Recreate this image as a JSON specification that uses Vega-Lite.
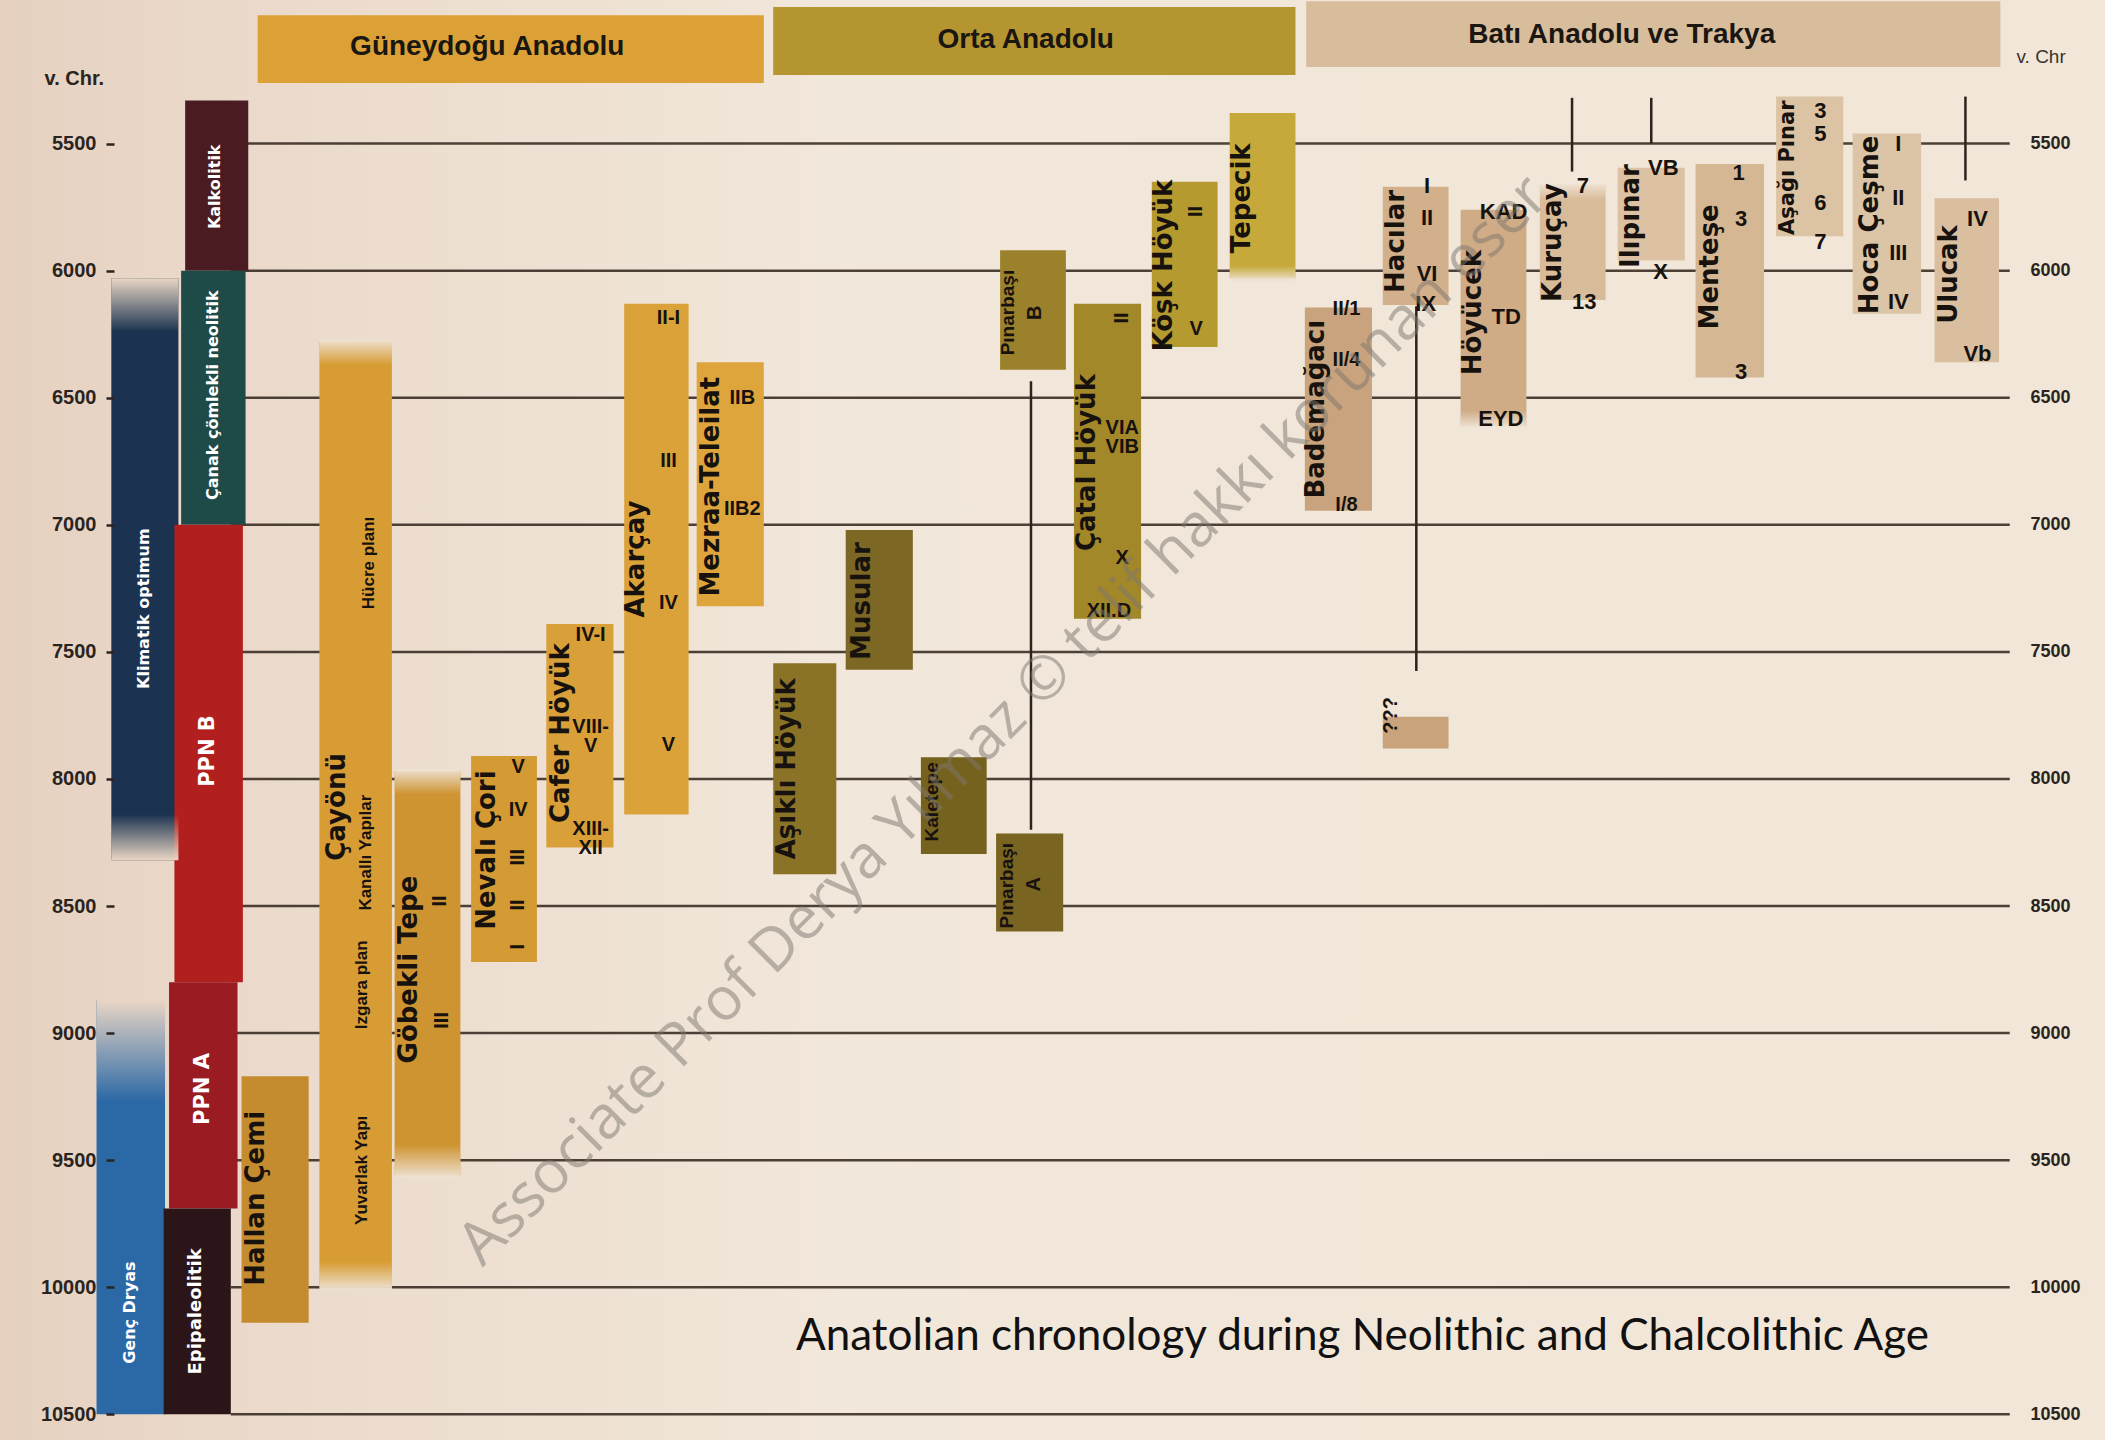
{
"$schema": "https://vega.github.io/schema/vega-lite/v6.json",
"width": 1896, "height": 1440,
"autosize": {"type": "none"},
"padding": {"left": 114, "right": 95, "top": 0, "bottom": 0},
"background": "#f0e5d6",
"config": {"view": {"stroke": null}},
"resolve": {"axis": {"y": "independent"}},
"datasets": {
"grid": [{"year":5500},{"year":6000},{"year":6500},{"year":7000},{"year":7500},{"year":8000},{"year":8500},{"year":9000},{"year":9500},{"year":10000},{"year":10500}],
"bands": [
{"name":"Güneydoğu Anadolu","x":192,"x2":569,"year":4995,"year2":5262},
{"name":"Orta Anadolu","x":576,"x2":965,"year":4963,"year2":5230},
{"name":"Batı Anadolu ve Trakya","x":973,"x2":1490,"year":4940,"year2":5199},
{"name":"Klimatik optimum","x":83,"x2":133,"year":6030,"year2":8320},
{"name":"Genç Dryas","x":72,"x2":123,"year":8870,"year2":10500},
{"name":"Kalkolitik","x":138,"x2":185,"year":5330,"year2":6000},
{"name":"Çanak çömlekli neolitik","x":135,"x2":183,"year":6000,"year2":7000},
{"name":"PPN B","x":130,"x2":181,"year":7000,"year2":8800},
{"name":"PPN A","x":126,"x2":177,"year":8800,"year2":9690},
{"name":"Epipaleolitik","x":122,"x2":172,"year":9690,"year2":10500},
{"name":"Hallan Çemi","x":180,"x2":230,"year":9170,"year2":10140},
{"name":"Çayönü","x":238,"x2":292,"year":6280,"year2":10000},
{"name":"Göbekli Tepe","x":294,"x2":343,"year":7970,"year2":9560},
{"name":"Nevalı Çori","x":351,"x2":400,"year":7910,"year2":8720},
{"name":"Cafer Höyük","x":407,"x2":457,"year":7390,"year2":8270},
{"name":"Akarçay","x":465,"x2":513,"year":6130,"year2":8140},
{"name":"Mezraa-Teleilat","x":519,"x2":569,"year":6360,"year2":7320},
{"name":"Aşıklı Höyük","x":576,"x2":623,"year":7545,"year2":8375},
{"name":"Musular","x":630,"x2":680,"year":7020,"year2":7570},
{"name":"Kaletepe","x":686,"x2":735,"year":7915,"year2":8295},
{"name":"Pınarbaşı A","x":742,"x2":792,"year":8215,"year2":8600},
{"name":"Pınarbaşı B","x":745,"x2":794,"year":5920,"year2":6390},
{"name":"Çatal Höyük","x":800,"x2":850,"year":6130,"year2":7370},
{"name":"Köşk Höyük","x":858,"x2":907,"year":5650,"year2":6300},
{"name":"Tepecik","x":916,"x2":965,"year":5380,"year2":6030},
{"name":"Bademağacı","x":972,"x2":1022,"year":6145,"year2":6945},
{"name":"Hacılar","x":1030,"x2":1079,"year":5670,"year2":6135},
{"name":"???","x":1030,"x2":1079,"year":7755,"year2":7880},
{"name":"Höyücek","x":1088,"x2":1137,"year":5760,"year2":6610},
{"name":"Kuruçay","x":1147,"x2":1196,"year":5665,"year2":6115},
{"name":"Ilıpınar","x":1205,"x2":1255,"year":5595,"year2":5960},
{"name":"Menteşe","x":1263,"x2":1314,"year":5580,"year2":6420},
{"name":"Aşağı Pınar","x":1323,"x2":1373,"year":5315,"year2":5865},
{"name":"Hoca Çeşme","x":1380,"x2":1431,"year":5460,"year2":6170},
{"name":"Ulucak","x":1441,"x2":1489,"year":5715,"year2":6360}
],
"vlines": [
{"site":"Pınarbaşı","x":768,"year":6435,"year2":8200},
{"site":"Hacılar","x":1055,"year":6140,"year2":7575},
{"site":"Kuruçay","x":1171,"year":5320,"year2":5610},
{"site":"Ilıpınar","x":1230,"year":5320,"year2":5500},
{"site":"Ulucak","x":1464,"year":5315,"year2":5645}
],
"fades": [
{"site":"Klimatik optimum","dir":"top","x":83,"x2":133,"year":6030,"year2":6240},
{"site":"Klimatik optimum","dir":"bottom","x":83,"x2":133,"year":8140,"year2":8320},
{"site":"Genç Dryas","dir":"top","x":72,"x2":123,"year":8870,"year2":9270},
{"site":"Çayönü","dir":"top","x":238,"x2":292,"year":6270,"year2":6370},
{"site":"Çayönü","dir":"bottom","x":238,"x2":292,"year":9900,"year2":10010},
{"site":"Göbekli Tepe","dir":"top","x":294,"x2":343,"year":7960,"year2":8060},
{"site":"Göbekli Tepe","dir":"bottom","x":294,"x2":343,"year":9440,"year2":9570},
{"site":"Tepecik","dir":"bottom","x":916,"x2":965,"year":5980,"year2":6040},
{"site":"Kuruçay","dir":"top","x":1147,"x2":1196,"year":5660,"year2":5720},
{"site":"Höyücek","dir":"bottom","x":1088,"x2":1137,"year":6550,"year2":6615}
],
"labels": [
{"text":"Güneydoğu Anadolu","x":363,"year":5120,"kind":"header"},
{"text":"Orta Anadolu","x":764,"year":5092,"kind":"header"},
{"text":"Batı Anadolu ve Trakya","x":1208,"year":5073,"kind":"header"},
{"text":"Kalkolitik","x":160,"year":5670,"kind":"period"},
{"text":"Çanak çömlekli neolitik","x":159,"year":6490,"kind":"period"},
{"text":"PPN B","x":155,"year":7890,"kind":"periodBig"},
{"text":"PPN A","x":151,"year":9220,"kind":"periodBig"},
{"text":"Epipaleolitik","x":146,"year":10095,"kind":"periodMid"},
{"text":"Klimatik optimum","x":107,"year":7330,"kind":"period"},
{"text":"Genç Dryas","x":97,"year":10100,"kind":"period"},
{"text":"Hallan Çemi","x":191,"year":9650,"kind":"site"},
{"text":"Çayönü","x":251,"year":8110,"kind":"site"},
{"text":"Göbekli Tepe","x":305,"year":8750,"kind":"site"},
{"text":"Nevalı Çori","x":363,"year":8280,"kind":"site"},
{"text":"Cafer Höyük","x":418,"year":7820,"kind":"site"},
{"text":"Akarçay","x":474,"year":7135,"kind":"site"},
{"text":"Mezraa-Teleilat","x":530,"year":6850,"kind":"site"},
{"text":"Aşıklı Höyük","x":586,"year":7960,"kind":"site"},
{"text":"Musular","x":642,"year":7300,"kind":"site"},
{"text":"Çatal Höyük","x":810,"year":6755,"kind":"site"},
{"text":"Köşk Höyük","x":867,"year":5980,"kind":"site"},
{"text":"Tepecik","x":925,"year":5715,"kind":"site"},
{"text":"Bademağacı","x":980,"year":6545,"kind":"site"},
{"text":"Hacılar","x":1040,"year":5885,"kind":"site"},
{"text":"Höyücek","x":1097,"year":6165,"kind":"site"},
{"text":"Kuruçay","x":1157,"year":5890,"kind":"site"},
{"text":"Ilıpınar","x":1215,"year":5785,"kind":"site"},
{"text":"Menteşe","x":1274,"year":5985,"kind":"site"},
{"text":"Hoca Çeşme","x":1393,"year":5820,"kind":"site"},
{"text":"Ulucak","x":1452,"year":6015,"kind":"site"},
{"text":"Aşağı Pınar","x":1332,"year":5595,"kind":"siteMid"},
{"text":"Kaletepe","x":694,"year":8090,"kind":"siteSmall"},
{"text":"Pınarbaşı","x":750,"year":8420,"kind":"siteSmall"},
{"text":"Pınarbaşı","x":751,"year":6165,"kind":"siteSmall"},
{"text":"Hücre planı","x":275,"year":7150,"kind":"note"},
{"text":"Kanallı Yapılar","x":273,"year":8290,"kind":"note"},
{"text":"Izgara plan","x":270,"year":8810,"kind":"note"},
{"text":"Yuvarlak Yapı","x":270,"year":9540,"kind":"note"},
{"text":"II","x":328,"year":8480,"kind":"numRot"},
{"text":"III","x":329,"year":8950,"kind":"numRot"},
{"text":"III","x":386,"year":8308,"kind":"numRot"},
{"text":"II","x":386,"year":8496,"kind":"numRot"},
{"text":"I","x":386,"year":8660,"kind":"numRot"},
{"text":"II","x":891,"year":5767,"kind":"numRot"},
{"text":"II","x":836,"year":6186,"kind":"numRot"},
{"text":"A","x":770,"year":8414,"kind":"numRot"},
{"text":"B","x":771,"year":6166,"kind":"numRot"},
{"text":"???","x":1036,"year":7750,"kind":"numRot"},
{"text":"V","x":386,"year":7953,"kind":"num"},
{"text":"IV","x":386,"year":8121,"kind":"num"},
{"text":"IV-I","x":440,"year":7433,"kind":"num"},
{"text":"VIII-\nV","x":440,"year":7795,"kind":"num"},
{"text":"XIII-\nXII","x":440,"year":8198,"kind":"num"},
{"text":"II-I","x":498,"year":6185,"kind":"num"},
{"text":"III","x":498,"year":6748,"kind":"num"},
{"text":"IV","x":498,"year":7306,"kind":"num"},
{"text":"V","x":498,"year":7865,"kind":"num"},
{"text":"IIB","x":553,"year":6500,"kind":"num"},
{"text":"IIB2","x":553,"year":6937,"kind":"num"},
{"text":"VIA\nVIB","x":836,"year":6621,"kind":"num"},
{"text":"X","x":836,"year":7132,"kind":"num"},
{"text":"XII.D","x":826,"year":7340,"kind":"num"},
{"text":"V","x":891,"year":6228,"kind":"num"},
{"text":"II/1","x":1003,"year":6150,"kind":"num"},
{"text":"II/4","x":1003,"year":6353,"kind":"num"},
{"text":"I/8","x":1003,"year":6922,"kind":"num"},
{"text":"I","x":1063,"year":5666,"kind":"numB"},
{"text":"II","x":1063,"year":5791,"kind":"numB"},
{"text":"VI","x":1063,"year":6013,"kind":"numB"},
{"text":"IX","x":1062,"year":6131,"kind":"numB"},
{"text":"KAD","x":1120,"year":5771,"kind":"numB"},
{"text":"TD","x":1122,"year":6183,"kind":"numB"},
{"text":"EYD","x":1118,"year":6584,"kind":"numB"},
{"text":"7","x":1179,"year":5666,"kind":"numB"},
{"text":"13","x":1180,"year":6124,"kind":"numB"},
{"text":"VB","x":1239,"year":5595,"kind":"numB"},
{"text":"X","x":1237,"year":6005,"kind":"numB"},
{"text":"1","x":1295,"year":5616,"kind":"numB"},
{"text":"3","x":1297,"year":5797,"kind":"numB"},
{"text":"3","x":1297,"year":6400,"kind":"numB"},
{"text":"3","x":1356,"year":5371,"kind":"numB"},
{"text":"5","x":1356,"year":5461,"kind":"numB"},
{"text":"6","x":1356,"year":5733,"kind":"numB"},
{"text":"7","x":1356,"year":5888,"kind":"numB"},
{"text":"I","x":1414,"year":5500,"kind":"numB"},
{"text":"II","x":1414,"year":5713,"kind":"numB"},
{"text":"III","x":1414,"year":5932,"kind":"numB"},
{"text":"IV","x":1414,"year":6122,"kind":"numB"},
{"text":"IV","x":1473,"year":5797,"kind":"numB"},
{"text":"Vb","x":1473,"year":6327,"kind":"numB"},
{"text":"Associate Prof Derya Yılmaz © telif hakkı korunan eser","x":748,"year":7771,"kind":"wm"},
{"text":"Anatolian chronology during Neolithic and Chalcolithic Age","x":593,"year":10245,"kind":"caption"}
]
},
"layer": [
{"data":{"values":[{}]},
 "mark":{"type":"rect","fill":{"gradient":"linear","x1":0,"y1":0,"x2":1,"y2":0,"stops":[{"offset":0,"color":"#e6d1c0"},{"offset":0.12,"color":"#ebdacb"},{"offset":0.4,"color":"#f1e7da"},{"offset":1,"color":"#f1e6d7"}]}},
 "encoding":{
  "x":{"datum":0,"type":"quantitative","scale":{"domain":[85,1497.2],"nice":false,"zero":false},"axis":null},
  "x2":{"datum":1568},
  "y":{"datum":4935,"type":"quantitative","scale":{"domain":[4935,10601],"nice":false,"zero":false,"reverse":true},"axis":null},
  "y2":{"datum":10601}}},
{"data":{"name":"grid"},
 "mark":{"type":"rule","color":"#3a2d25","strokeWidth":2.5,"opacity":0.9},
 "encoding":{
  "x":{"datum":172,"type":"quantitative","scale":{"domain":[85,1497.2],"nice":false,"zero":false},"axis":null},
  "x2":{"datum":1497},
  "y":{"field":"year","type":"quantitative","scale":{"domain":[4935,10601],"nice":false,"zero":false,"reverse":true},
   "axis":{"orient":"left","zindex":1,"values":[5500,6000,6500,7000,7500,8000,8500,9000,9500,10000,10500],"format":"d","domain":false,"grid":false,"ticks":true,"tickSize":8,"tickWidth":2.5,"tickColor":"#2a2420","labelFont":"Liberation Sans","labelFontWeight":"bold","labelFontSize":20,"labelColor":"#2a2420","labelPadding":10,
    "title":"v. Chr.","titleAngle":0,"titleX":-70,"titleY":78,"titleAlign":"left","titleBaseline":"middle","titleFont":"Liberation Sans","titleFontSize":20,"titleFontWeight":"bold","titleColor":"#2a2420"}}}},
{"data":{"name":"bands"},
 "mark":{"type":"rect"},
 "encoding":{
  "x":{"field":"x","type":"quantitative","scale":{"domain":[85,1497.2],"nice":false,"zero":false},"axis":null},
  "x2":{"field":"x2"},
  "y":{"field":"year","type":"quantitative","scale":{"domain":[4935,10601],"nice":false,"zero":false,"reverse":true},"axis":null},
  "y2":{"field":"year2"},
  "color":{"field":"name","type":"nominal","legend":null,"scale":{
   "domain":["Güneydoğu Anadolu","Orta Anadolu","Batı Anadolu ve Trakya","Klimatik optimum","Genç Dryas","Kalkolitik","Çanak çömlekli neolitik","PPN B","PPN A","Epipaleolitik","Hallan Çemi","Çayönü","Göbekli Tepe","Nevalı Çori","Cafer Höyük","Akarçay","Mezraa-Teleilat","Aşıklı Höyük","Musular","Kaletepe","Pınarbaşı A","Pınarbaşı B","Çatal Höyük","Köşk Höyük","Tepecik","Bademağacı","Hacılar","???","Höyücek","Kuruçay","Ilıpınar","Menteşe","Aşağı Pınar","Hoca Çeşme","Ulucak"],
   "range":["#dba136","#b5952f","#d8bd9c","#1b3350","#2b68a6","#4a1c22","#1e4b47","#b21f1f","#9a1b22","#2b1518","#c48b2f","#d79c34","#cd9431","#d49a33","#d9a03a","#dba23a","#dea53d","#8a7226","#7c6724","#76621f","#7a6421","#9b812b","#a38829","#b59a30","#c6a93a","#c8a37d","#d2b08b","#c9a37b","#cfab86","#d8bc99","#dcc2a2","#d6b793","#dcc3a3","#dcc4a6","#d9bfa0"]}}}},
{"data":{"name":"vlines"},
 "mark":{"type":"rule","color":"#2e231c","strokeWidth":2.5},
 "encoding":{
  "x":{"field":"x","type":"quantitative","scale":{"domain":[85,1497.2],"nice":false,"zero":false},"axis":null},
  "y":{"field":"year","type":"quantitative","scale":{"domain":[4935,10601],"nice":false,"zero":false,"reverse":true},
   "axis":{"orient":"right","zindex":1,"values":[5500,6000,6500,7000,7500,8000,8500,9000,9500,10000,10500],"format":"d","domain":false,"grid":false,"ticks":false,"labelFont":"Liberation Sans","labelFontWeight":"bold","labelFontSize":18,"labelColor":"#2a2420","labelPadding":20,
    "title":"v. Chr","titleAngle":0,"titleX":6,"titleY":56,"titleAlign":"left","titleBaseline":"middle","titleFont":"Liberation Sans","titleFontSize":19,"titleFontWeight":"normal","titleColor":"#3a3430"}},
  "y2":{"field":"year2"}}},
{"data":{"name":"fades"},
 "transform":[{"filter":"datum.dir === 'top' && (datum.site === 'Klimatik optimum' || datum.site === 'Genç Dryas')"}],
 "mark":{"type":"rect","fill":{"gradient":"linear","x1":0,"y1":0,"x2":0,"y2":1,"stops":[{"offset":0,"color":"#e9d6c5"},{"offset":1,"color":"rgba(233,214,197,0)"}]}},
 "encoding":{
  "x":{"field":"x","type":"quantitative","scale":{"domain":[85,1497.2],"nice":false,"zero":false},"axis":null},
  "x2":{"field":"x2"},
  "y":{"field":"year","type":"quantitative","scale":{"domain":[4935,10601],"nice":false,"zero":false,"reverse":true},"axis":null},
  "y2":{"field":"year2"}}},
{"data":{"name":"fades"},
 "transform":[{"filter":"datum.dir === 'bottom' && (datum.site === 'Klimatik optimum' || datum.site === 'Genç Dryas')"}],
 "mark":{"type":"rect","fill":{"gradient":"linear","x1":0,"y1":0,"x2":0,"y2":1,"stops":[{"offset":0,"color":"rgba(233,214,197,0)"},{"offset":1,"color":"#e9d6c5"}]}},
 "encoding":{
  "x":{"field":"x","type":"quantitative","scale":{"domain":[85,1497.2],"nice":false,"zero":false},"axis":null},
  "x2":{"field":"x2"},
  "y":{"field":"year","type":"quantitative","scale":{"domain":[4935,10601],"nice":false,"zero":false,"reverse":true},"axis":null},
  "y2":{"field":"year2"}}},
{"data":{"name":"fades"},
 "transform":[{"filter":"datum.dir === 'top' && datum.site !== 'Klimatik optimum' && datum.site !== 'Genç Dryas'"}],
 "mark":{"type":"rect","fill":{"gradient":"linear","x1":0,"y1":0,"x2":0,"y2":1,"stops":[{"offset":0,"color":"#eee1d2"},{"offset":1,"color":"rgba(238,225,210,0)"}]}},
 "encoding":{
  "x":{"field":"x","type":"quantitative","scale":{"domain":[85,1497.2],"nice":false,"zero":false},"axis":null},
  "x2":{"field":"x2"},
  "y":{"field":"year","type":"quantitative","scale":{"domain":[4935,10601],"nice":false,"zero":false,"reverse":true},"axis":null},
  "y2":{"field":"year2"}}},
{"data":{"name":"fades"},
 "transform":[{"filter":"datum.dir === 'bottom' && datum.site !== 'Klimatik optimum' && datum.site !== 'Genç Dryas'"}],
 "mark":{"type":"rect","fill":{"gradient":"linear","x1":0,"y1":0,"x2":0,"y2":1,"stops":[{"offset":0,"color":"rgba(238,225,210,0)"},{"offset":1,"color":"#eee1d2"}]}},
 "encoding":{
  "x":{"field":"x","type":"quantitative","scale":{"domain":[85,1497.2],"nice":false,"zero":false},"axis":null},
  "x2":{"field":"x2"},
  "y":{"field":"year","type":"quantitative","scale":{"domain":[4935,10601],"nice":false,"zero":false,"reverse":true},"axis":null},
  "y2":{"field":"year2"}}},
{"data":{"name":"labels"},"transform":[{"filter":"datum.kind === 'header'"}],
 "mark":{"type":"text","align":"center","baseline":"middle","font":"Liberation Sans","fontWeight":"bold","fontSize":28,"color":"#1a1612"},
 "encoding":{"x":{"field":"x","type":"quantitative","scale":{"domain":[85,1497.2],"nice":false,"zero":false},"axis":null},"y":{"field":"year","type":"quantitative","scale":{"domain":[4935,10601],"nice":false,"zero":false,"reverse":true},"axis":null},"text":{"field":"text","type":"nominal"}}},
{"data":{"name":"labels"},"transform":[{"filter":"datum.kind === 'period'"}],
 "mark":{"type":"text","angle":270,"align":"center","baseline":"middle","font":"DejaVu Sans","fontWeight":"bold","fontSize":16,"color":"#ffffff"},
 "encoding":{"x":{"field":"x","type":"quantitative","scale":{"domain":[85,1497.2],"nice":false,"zero":false},"axis":null},"y":{"field":"year","type":"quantitative","scale":{"domain":[4935,10601],"nice":false,"zero":false,"reverse":true},"axis":null},"text":{"field":"text","type":"nominal"}}},
{"data":{"name":"labels"},"transform":[{"filter":"datum.kind === 'periodMid'"}],
 "mark":{"type":"text","angle":270,"align":"center","baseline":"middle","font":"DejaVu Sans","fontWeight":"bold","fontSize":18,"color":"#ffffff"},
 "encoding":{"x":{"field":"x","type":"quantitative","scale":{"domain":[85,1497.2],"nice":false,"zero":false},"axis":null},"y":{"field":"year","type":"quantitative","scale":{"domain":[4935,10601],"nice":false,"zero":false,"reverse":true},"axis":null},"text":{"field":"text","type":"nominal"}}},
{"data":{"name":"labels"},"transform":[{"filter":"datum.kind === 'periodBig'"}],
 "mark":{"type":"text","angle":270,"align":"center","baseline":"middle","font":"DejaVu Sans","fontWeight":"bold","fontSize":21,"color":"#ffffff"},
 "encoding":{"x":{"field":"x","type":"quantitative","scale":{"domain":[85,1497.2],"nice":false,"zero":false},"axis":null},"y":{"field":"year","type":"quantitative","scale":{"domain":[4935,10601],"nice":false,"zero":false,"reverse":true},"axis":null},"text":{"field":"text","type":"nominal"}}},
{"data":{"name":"labels"},"transform":[{"filter":"datum.kind === 'site'"}],
 "mark":{"type":"text","angle":270,"align":"center","baseline":"middle","font":"DejaVu Sans","fontWeight":"bold","fontSize":26,"color":"#17120e"},
 "encoding":{"x":{"field":"x","type":"quantitative","scale":{"domain":[85,1497.2],"nice":false,"zero":false},"axis":null},"y":{"field":"year","type":"quantitative","scale":{"domain":[4935,10601],"nice":false,"zero":false,"reverse":true},"axis":null},"text":{"field":"text","type":"nominal"}}},
{"data":{"name":"labels"},"transform":[{"filter":"datum.kind === 'siteMid'"}],
 "mark":{"type":"text","angle":270,"align":"center","baseline":"middle","font":"DejaVu Sans","fontWeight":"bold","fontSize":21,"color":"#17120e"},
 "encoding":{"x":{"field":"x","type":"quantitative","scale":{"domain":[85,1497.2],"nice":false,"zero":false},"axis":null},"y":{"field":"year","type":"quantitative","scale":{"domain":[4935,10601],"nice":false,"zero":false,"reverse":true},"axis":null},"text":{"field":"text","type":"nominal"}}},
{"data":{"name":"labels"},"transform":[{"filter":"datum.kind === 'siteSmall'"}],
 "mark":{"type":"text","angle":270,"align":"center","baseline":"middle","font":"Liberation Sans","fontWeight":"bold","fontSize":19,"color":"#17120e"},
 "encoding":{"x":{"field":"x","type":"quantitative","scale":{"domain":[85,1497.2],"nice":false,"zero":false},"axis":null},"y":{"field":"year","type":"quantitative","scale":{"domain":[4935,10601],"nice":false,"zero":false,"reverse":true},"axis":null},"text":{"field":"text","type":"nominal"}}},
{"data":{"name":"labels"},"transform":[{"filter":"datum.kind === 'note'"}],
 "mark":{"type":"text","angle":270,"align":"center","baseline":"middle","font":"Liberation Sans","fontWeight":"bold","fontSize":17,"color":"#17120e"},
 "encoding":{"x":{"field":"x","type":"quantitative","scale":{"domain":[85,1497.2],"nice":false,"zero":false},"axis":null},"y":{"field":"year","type":"quantitative","scale":{"domain":[4935,10601],"nice":false,"zero":false,"reverse":true},"axis":null},"text":{"field":"text","type":"nominal"}}},
{"data":{"name":"labels"},"transform":[{"filter":"datum.kind === 'numRot'"}],
 "mark":{"type":"text","angle":270,"align":"center","baseline":"middle","font":"Liberation Sans","fontWeight":"bold","fontSize":20,"color":"#17120e"},
 "encoding":{"x":{"field":"x","type":"quantitative","scale":{"domain":[85,1497.2],"nice":false,"zero":false},"axis":null},"y":{"field":"year","type":"quantitative","scale":{"domain":[4935,10601],"nice":false,"zero":false,"reverse":true},"axis":null},"text":{"field":"text","type":"nominal"}}},
{"data":{"name":"labels"},"transform":[{"filter":"datum.kind === 'num'"}],
 "mark":{"type":"text","align":"center","baseline":"middle","lineBreak":"\n","lineHeight":19,"font":"Liberation Sans","fontWeight":"bold","fontSize":20,"color":"#17120e"},
 "encoding":{"x":{"field":"x","type":"quantitative","scale":{"domain":[85,1497.2],"nice":false,"zero":false},"axis":null},"y":{"field":"year","type":"quantitative","scale":{"domain":[4935,10601],"nice":false,"zero":false,"reverse":true},"axis":null},"text":{"field":"text","type":"nominal"}}},
{"data":{"name":"labels"},"transform":[{"filter":"datum.kind === 'numB'"}],
 "mark":{"type":"text","align":"center","baseline":"middle","font":"Liberation Sans","fontWeight":"bold","fontSize":22,"color":"#17120e"},
 "encoding":{"x":{"field":"x","type":"quantitative","scale":{"domain":[85,1497.2],"nice":false,"zero":false},"axis":null},"y":{"field":"year","type":"quantitative","scale":{"domain":[4935,10601],"nice":false,"zero":false,"reverse":true},"axis":null},"text":{"field":"text","type":"nominal"}}},
{"data":{"name":"labels"},"transform":[{"filter":"datum.kind === 'wm'"}],
 "mark":{"type":"text","angle":315,"align":"center","baseline":"middle","font":"Open Sans","fontSize":60,"color":"#7d7770","opacity":0.5},
 "encoding":{"x":{"field":"x","type":"quantitative","scale":{"domain":[85,1497.2],"nice":false,"zero":false},"axis":null},"y":{"field":"year","type":"quantitative","scale":{"domain":[4935,10601],"nice":false,"zero":false,"reverse":true},"axis":null},"text":{"field":"text","type":"nominal"}}},
{"data":{"name":"labels"},"transform":[{"filter":"datum.kind === 'caption'"}],
 "mark":{"type":"text","align":"left","baseline":"alphabetic","font":"Lato","fontSize":44,"color":"#111111"},
 "encoding":{"x":{"field":"x","type":"quantitative","scale":{"domain":[85,1497.2],"nice":false,"zero":false},"axis":null},"y":{"field":"year","type":"quantitative","scale":{"domain":[4935,10601],"nice":false,"zero":false,"reverse":true},"axis":null},"text":{"field":"text","type":"nominal"}}}
]
}
